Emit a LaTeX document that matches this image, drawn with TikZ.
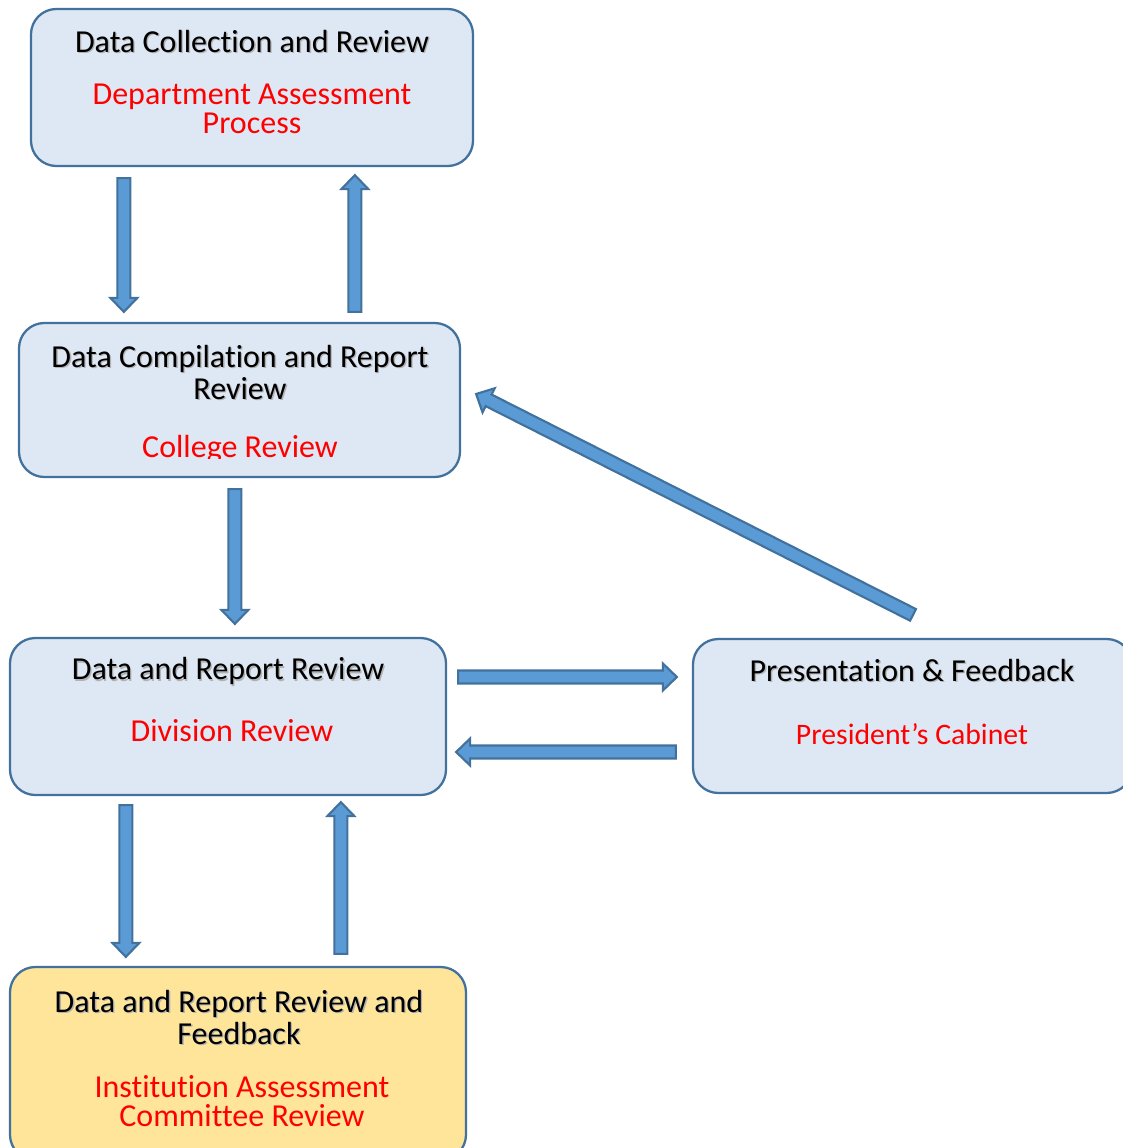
\documentclass[tikz,border=0pt]{standalone}
\usepackage{fontspec}
\setmainfont[Ligatures=NoCommon]{Carlito}
\usetikzlibrary{calc,fit}

\definecolor{boxfill}{HTML}{DEE8F4}
\definecolor{boxline}{HTML}{41719C}
\definecolor{goldfill}{HTML}{FEE59A}
\definecolor{arrfill}{HTML}{5B9BD5}
\definecolor{arrline}{HTML}{41719C}
\definecolor{redtext}{HTML}{FF0000}

% black headings carry a soft drop shadow
\newcommand\shtxt[1]{\leavevmode\rlap{\kern1pt\raisebox{-1pt}{\color{black!30}#1}}#1}

\tikzset{
  x=0.75pt, y=-0.75pt,
  procbox/.style={draw=boxline, line width=1.7pt, fill=boxfill, rounded corners=19pt, inner sep=0pt},
  goldbox/.style={procbox, fill=goldfill},
  headtext/.style={font=\fontsize{24}{24}\selectfont, align=center, text=black, inner sep=0pt},
  subtext/.style={font=\fontsize{24}{22}\selectfont, align=center, text=redtext, inner sep=0pt},
  blockarr/.style={draw=arrline, fill=arrfill, line width=1.6pt, line join=miter},
}

% block arrow from tail coordinate #1 to tip coordinate #2 (sizes in px)
\newcommand\blockarrow[2]{%
  \path let \p1=(#1), \p2=(#2),
    \n1={atan2(\y2-\y1,\x2-\x1)}, \n2={veclen(\x2-\x1,\y2-\y1)} in
    \pgfextra{\pgfmathsetmacro\baang{\n1}\pgfmathsetmacro\balen{\n2/0.75}%
      \global\let\baang\baang\global\let\balen\balen\xdef\bax{\x1}\xdef\bay{\y1}};
  \begin{scope}[shift={(\bax,\bay)}, rotate=\baang]
    \draw[blockarr] (0,-6.5) -- (\balen-14,-6.5) -- (\balen-14,-13.5) -- (\balen,0)
      -- (\balen-14,13.5) -- (\balen-14,6.5) -- (0,6.5) -- cycle;
  \end{scope}}

\begin{document}
\begin{tikzpicture}
\useasboundingbox (0,0) rectangle (1122,1148);

% process boxes
\node[procbox, fit={(31,9) (473,166)}] (collect) {};
\node[procbox, fit={(19,323) (460,477)}] (compile) {};
\node[procbox, fit={(10,638) (446,795)}] (division) {};
\node[procbox, fit={(693,639) (1132,793)}] (cabinet) {};
\node[goldbox, fit={(10,967) (466,1160)}] (committee) {};

% box texts
\node[headtext] (collectA) at (252,42) {\shtxt{Data Collection and Review}};
\node[subtext] (collectB) at (252,109) {Department Assessment\\Process};

\node[headtext] (compileA) at (240,373) {\shtxt{Data Compilation and Report}\\\shtxt{Review}};
\begin{scope}
  \clip (0,0) rectangle (1122,458);
  \node[subtext] (compileB) at (240,449) {College Review};
\end{scope}

\node[headtext] (divisionA) at (228,672) {\shtxt{Data and Report Review}};
\node[subtext] (divisionB) at (232,731) {Division Review};

\node[headtext] (cabinetA) at (912,671) {\shtxt{Presentation \& Feedback}};
\node[subtext, font=\fontsize{22.3}{22}\selectfont] (cabinetB) at (912,734) {President’s Cabinet};

\node[headtext] (committeeA) at (239,1018) {\shtxt{Data and Report Review and}\\\shtxt{Feedback}};
\node[subtext] (committeeB) at (242,1101) {Institution Assessment\\Committee Review};

% arrow end points
\coordinate (a1s) at ($(collect.south west)+(94,11)$);
\coordinate (a1e) at ($(compile.north west)+(106,-10)$);
\coordinate (a2s) at ($(compile.north west)+(337,-10)$);
\coordinate (a2e) at ($(collect.south west)+(325,8)$);
\coordinate (a3s) at ($(compile.south west)+(217,11)$);
\coordinate (a3e) at ($(division.north west)+(226,-13)$);
\coordinate (a4s) at ($(division.east)+(11,-39.5)$);
\coordinate (a4e) at ($(cabinet.west)+(-15,-39)$);
\coordinate (a5s) at ($(cabinet.west)+(-16,36)$);
\coordinate (a5e) at ($(division.east)+(9,35.5)$);
\coordinate (a6s) at ($(cabinet.north)+(0.5,-23)$);
\coordinate (a6e) at ($(compile.east)+(15,-6)$);
\coordinate (a7s) at ($(division.south west)+(117,9)$);
\coordinate (a7e) at ($(committee.north west)+(117,-9)$);
\coordinate (a8s) at ($(committee.north west)+(332,-12)$);
\coordinate (a8e) at ($(division.south west)+(332,6)$);

\blockarrow{a1s}{a1e}
\blockarrow{a2s}{a2e}
\blockarrow{a3s}{a3e}
\blockarrow{a4s}{a4e}
\blockarrow{a5s}{a5e}
\blockarrow{a6s}{a6e}
\blockarrow{a7s}{a7e}
\blockarrow{a8s}{a8e}
\end{tikzpicture}
\end{document}
